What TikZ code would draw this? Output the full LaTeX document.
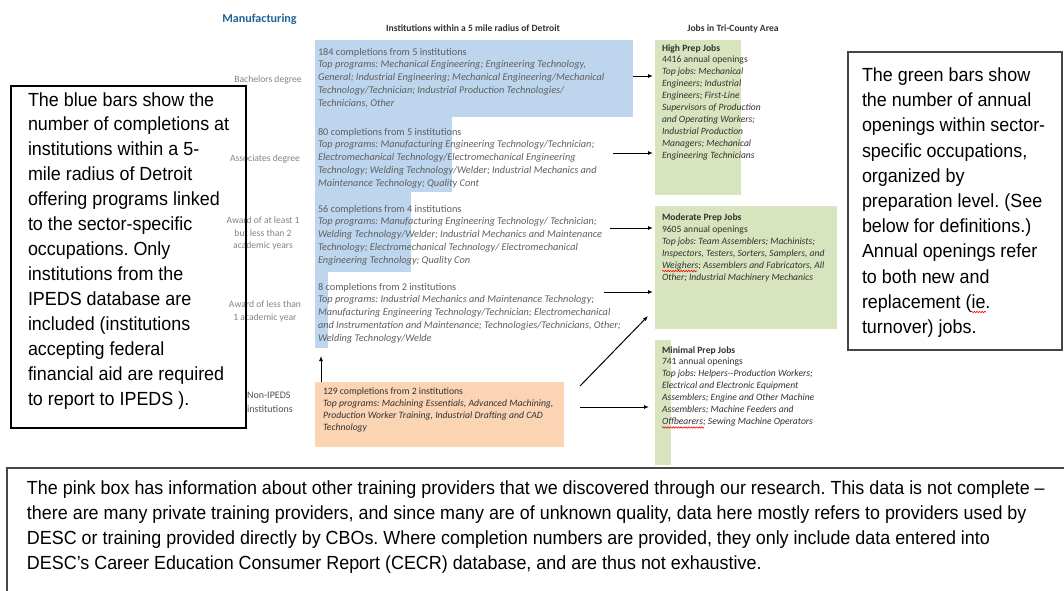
\documentclass[tikz,border=0pt]{standalone}
\usepackage{fontspec}
\setmainfont{Carlito}
\newfontfamily\arialf{Liberation Sans}[FakeStretch=0.943]
\usetikzlibrary{arrows.meta,decorations.pathmorphing}
\definecolor{barblue}{RGB}{189,214,238}
\definecolor{bargreen}{RGB}{215,228,189}
\definecolor{barpink}{RGB}{251,212,180}
\definecolor{txtgray}{RGB}{95,95,95}
\definecolor{lblgray}{RGB}{130,130,130}
\definecolor{darktxt}{RGB}{50,50,50}
\definecolor{mfgblue}{RGB}{31,100,150}
\definecolor{boxline}{RGB}{70,70,70}
\frenchspacing
\begin{document}
\begin{tikzpicture}[x=1pt,y=-1pt,
  bar/.style={draw=none,inner sep=0pt,outer sep=0pt},
  blk/.style={anchor=north west,inner sep=0pt,outer sep=0pt,align=left},
  bartxt/.style={blk,text=txtgray,font=\fontsize{10.3}{12.85}\selectfont},
  greentxt/.style={blk,text=darktxt,font=\fontsize{9.6}{11.9}\selectfont},
  lbl/.style={anchor=north,inner sep=0pt,align=center,text=lblgray,font=\fontsize{9.6}{12.8}\selectfont},
  bigtxt/.style={blk,text=black,font=\arialf\fontsize{19}{24.95}\selectfont},
  hdr/.style={anchor=base,inner sep=0pt,text=darktxt,font=\bfseries\fontsize{9.6}{11}\selectfont},
  arr/.style={-{Latex[length=5pt,width=4pt]},line width=1pt,black},
  wave/.style={red,line width=0.6pt,decorate,decoration={snake,amplitude=0.7pt,segment length=2.6pt}}
]
\useasboundingbox (0,0) rectangle (1064,590);
\clip (0,0) rectangle (1064,590);

% headers
\node[anchor=base,inner sep=0pt,text=mfgblue,font=\bfseries\fontsize{12.1}{14}\selectfont] (mfg) at (259.5,22.5) {Manufacturing};
\node[hdr] (hinst) at (473,31) {Institutions within a 5 mile radius of Detroit};
\node[hdr] (hjobs) at (733,31) {Jobs in Tri-County Area};

% blue bars
\node[bar,fill=barblue,minimum width=318pt,minimum height=77pt] (b1) at (474,78.5) {};
\node[bar,fill=barblue,minimum width=137pt,minimum height=75pt] (b2) at (383.5,154.5) {};
\node[bar,fill=barblue,minimum width=96pt,minimum height=80pt] (b3) at (363,232) {};
\node[bar,fill=barblue,minimum width=13pt,minimum height=76pt] (b4) at (321.5,310) {};
% green bars
\node[bar,fill=bargreen,minimum width=86pt,minimum height=155pt] (hp) at (698,117.5) {};
\node[bar,fill=bargreen,minimum width=182pt,minimum height=123pt] (mp) at (746,267.5) {};
\node[bar,fill=bargreen,minimum width=16pt,minimum height=125pt] (np) at (663,402.5) {};
% pink box
\node[bar,fill=barpink,minimum width=249pt,minimum height=65pt] (pk) at (439.5,414.5) {};

% bar texts
\node[bartxt] (t1) at (318,46.5) {\rule{0pt}{8.5pt}184 completions from 5 institutions\\
\textit{Top programs: Mechanical Engineering; Engineering Technology,}\\
\textit{General; Industrial Engineering; Mechanical Engineering/Mechanical}\\
\textit{Technology/Technician; Industrial Production Technologies/}\\
\textit{Technicians, Other}};
\node[bartxt] (t2) at (318,126.5) {\rule{0pt}{8.5pt}80 completions from 5 institutions\\
\textit{Top programs: Manufacturing Engineering Technology/Technician;}\\
\textit{Electromechanical Technology/Electromechanical Engineering}\\
\textit{Technology; Welding Technology/Welder; Industrial Mechanics and}\\
\textit{Maintenance Technology; Quality Cont}};
\node[bartxt] (t3) at (318,203.5) {\rule{0pt}{8.5pt}56 completions from 4 institutions\\
\textit{Top programs: Manufacturing Engineering Technology/ Technician;}\\
\textit{Welding Technology/Welder; Industrial Mechanics and Maintenance}\\
\textit{Technology; Electromechanical Technology/ Electromechanical}\\
\textit{Engineering Technology; Quality Con}};
\node[bartxt] (t4) at (318,281.5) {\rule{0pt}{8.5pt}8 completions from 2 institutions\\
\textit{Top programs: Industrial Mechanics and Maintenance Technology;}\\
\textit{Manufacturing Engineering Technology/Technician; Electromechanical}\\
\textit{and Instrumentation and Maintenance; Technologies/Technicians, Other;}\\
\textit{Welding Technology/Welde}};
\node[bartxt,text=darktxt,font=\fontsize{9.7}{12}\selectfont] (t5) at (323,386) {\rule{0pt}{8pt}129 completions from 2 institutions\\
\textit{Top programs: Machining Essentials, Advanced Machining,}\\
\textit{Production Worker Training, Industrial Drafting and CAD}\\
\textit{Technology}};

% green texts
\node[greentxt] (g1) at (662,43) {\rule{0pt}{8pt}\textbf{High Prep Jobs}\\
4416 annual openings\\
\textit{Top jobs: Mechanical}\\
\textit{Engineers; Industrial}\\
\textit{Engineers; First-Line}\\
\textit{Supervisors of Production}\\
\textit{and Operating Workers;}\\
\textit{Industrial Production}\\
\textit{Managers; Mechanical}\\
\textit{Engineering Technicians}};
\node[greentxt,font=\fontsize{9.6}{12}\selectfont] (g2) at (662,212) {\rule{0pt}{8pt}\textbf{Moderate Prep Jobs}\\
9605 annual openings\\
\textit{Top jobs: Team Assemblers; Machinists;}\\
\textit{Inspectors, Testers, Sorters, Samplers, and}\\
\textit{Weighers; Assemblers and Fabricators, All}\\
\textit{Other; Industrial Machinery Mechanics}};
\node[greentxt] (g3) at (662,345) {\rule{0pt}{8pt}\textbf{Minimal Prep Jobs}\\
741 annual openings\\
\textit{Top jobs: Helpers-{}-Production Workers;}\\
\textit{Electrical and Electronic Equipment}\\
\textit{Assemblers; Engine and Other Machine}\\
\textit{Assemblers; Machine Feeders and}\\
\textit{Offbearers; Sewing Machine Operators}};

% row labels
\node[lbl] (l1) at (268,74) {\rule{0pt}{8pt}Bachelors degree};
\node[lbl] (l2) at (265,153) {\rule{0pt}{8pt}Associates degree};
\node[lbl] (l3) at (263,215) {\rule{0pt}{8pt}Award of at least 1\\ but less than 2\\ academic years};
\node[lbl] (l4) at (265,299) {\rule{0pt}{8pt}Award of less than\\ 1 academic year};
\node[lbl,anchor=north west,align=left,text=darktxt!85,font=\fontsize{10}{14}\selectfont] (l5) at (247,390) {\rule{0pt}{8pt}Non-IPEDS\\ institutions};

% arrows
\coordinate (a1) at (633,76);
\coordinate (a2) at (613,153);
\coordinate (a3) at (610,228);
\coordinate (a4) at (604,292);
\coordinate (a5) at (580,386);
\coordinate (a5e) at (648,316);
\coordinate (a6) at (580,407);
\coordinate (a7) at (321,356);
\draw[arr] (a1) -- ([xshift=-2pt]hp.west |- a1);
\draw[arr] (a2) -- ([xshift=-2pt]hp.west |- a2);
\draw[arr] (a3) -- ([xshift=-2pt]mp.west |- a3);
\draw[arr] (a4) -- ([xshift=-2pt]mp.west |- a4);
\draw[arr] (a5) -- (a5e);
\draw[arr] (a6) -- ([xshift=-6pt]np.west |- a6);
\draw[arr] (pk.north -| a7) -- (a7);

% explanation boxes
\node[draw=black,line width=1.2pt,inner sep=0pt,minimum width=235pt,minimum height=342pt] (lb) at (128.5,257) {};
\node[bigtxt] (lbt) at (28,91) {\rule{0pt}{15pt}The blue bars show the\\
number of completions at\\
institutions within a 5-\\
mile radius of Detroit\\
offering programs linked\\
to the sector-specific\\
occupations. Only\\
institutions from the\\
IPEDS database are\\
included (institutions\\
accepting federal\\
financial aid are required\\
to report to IPEDS ).};
\node[draw=boxline,line width=1.5pt,inner sep=0pt,minimum width=214pt,minimum height=298pt] (rb) at (955,201) {};
\node[bigtxt,font=\arialf\fontsize{19}{25.2}\selectfont] (rbt) at (862,66.5) {\rule{0pt}{15pt}The green bars show\\
the number of annual\\
openings within sector-\\
specific occupations,\\
organized by\\
preparation level. (See\\
below for definitions.)\\
Annual openings refer\\
to both new and\\
replacement (ie.\\
turnover) jobs.};
\node[draw=boxline,line width=1.8pt,inner sep=0pt,minimum width=1080pt,minimum height=160pt,anchor=north west] (bb) at (6,467) {};
\node[bigtxt,font=\arialf\fontsize{19}{24.9}\selectfont] (bbt) at (27,479.5) {\rule{0pt}{15pt}The pink box has information about other training providers that we discovered through our research. This data is not complete –\\
there are many private training providers, and since many are of unknown quality, data here mostly refers to providers used by\\
DESC or training provided directly by CBOs. Where completion numbers are provided, they only include data entered into\\
DESC’s Career Education Consumer Report (CECR) database, and are thus not exhaustive.};

% spell-check squiggles
\draw[wave] (662,271) -- (697,271);
\draw[wave] (662,427.5) -- (704,427.5);
\draw[wave] (971,312) -- (986,312);
\end{tikzpicture}
\end{document}
